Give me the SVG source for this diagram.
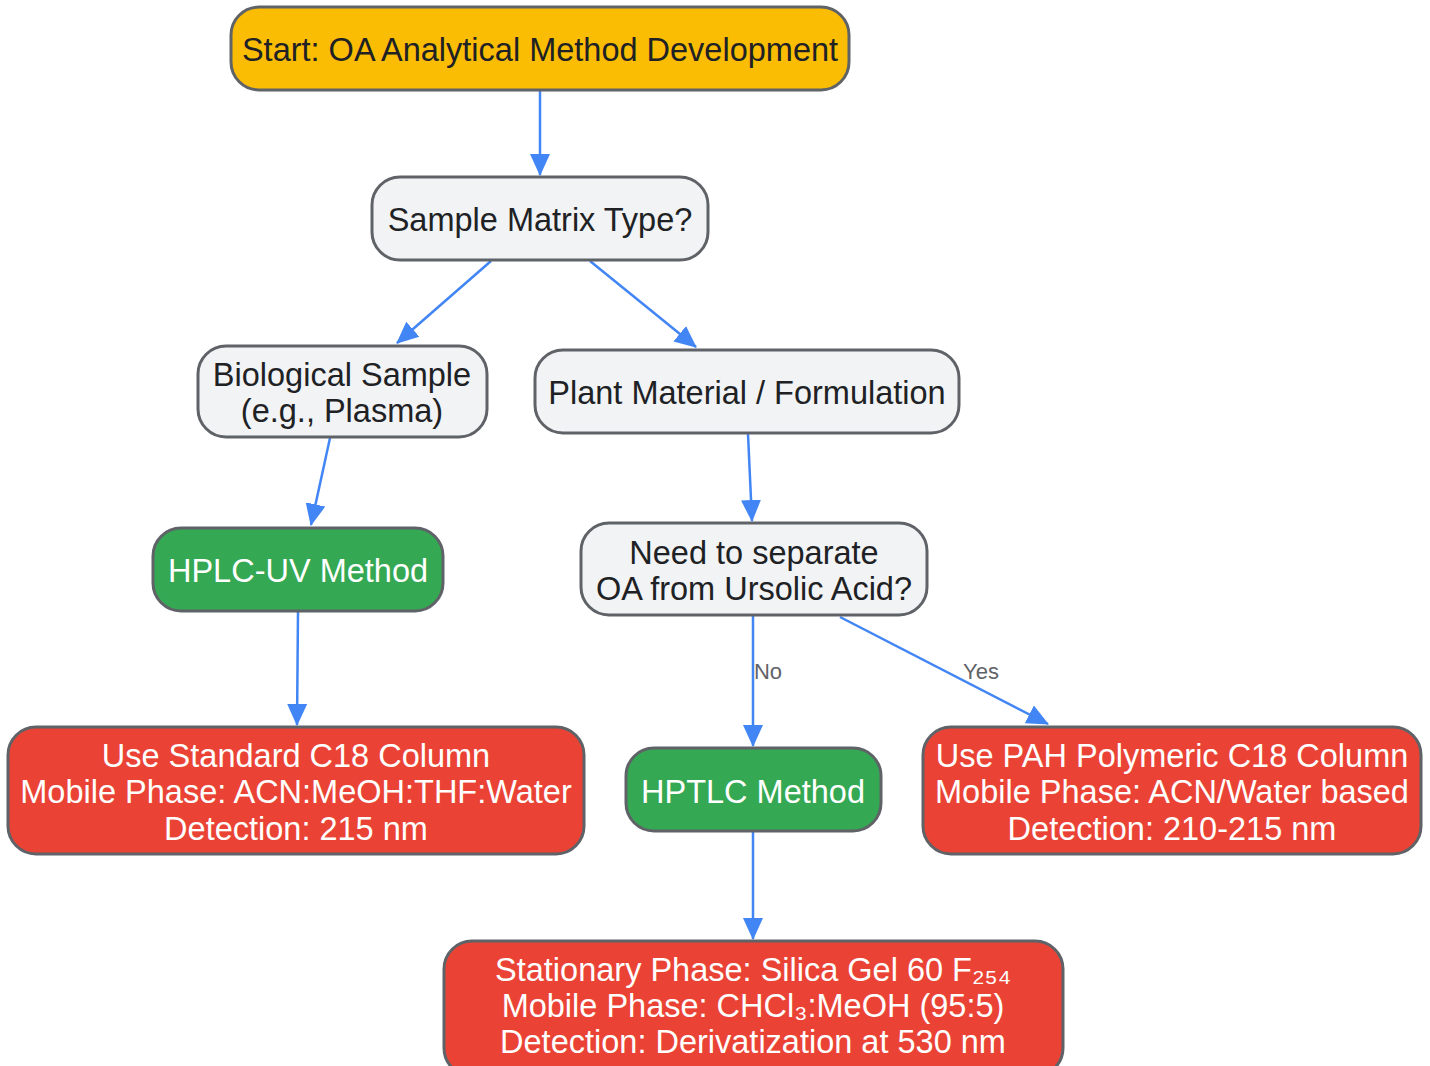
<svg xmlns="http://www.w3.org/2000/svg" width="1430" height="1066" viewBox="0 0 1430 1066">
<defs>
<marker id="arr" markerUnits="userSpaceOnUse" markerWidth="22" markerHeight="22" viewBox="0 0 22 22" refX="21" refY="11" orient="auto">
<path d="M0,1 L22,11 L0,21 Z" fill="#4285F4"/>
</marker>
<style>
.n rect{stroke:#5f6368;stroke-width:3}
.grey rect{fill:#F1F3F4}
.start rect{fill:#FBBC04}
.green rect{fill:#34A853}
.red rect{fill:#EA4335}
text{font-family:"Liberation Sans",Arial,sans-serif;font-size:32.5px;text-anchor:middle;fill:#202124}
.green text,.red text{fill:#ffffff}
.e{stroke:#4285F4;stroke-width:2.5;fill:none;marker-end:url(#arr)}
.lbl{font-size:22px;fill:#5f6368}
</style>
</defs>
<g id="connectors">
<line class="e" x1="540" y1="91" x2="540" y2="175"/>
<line class="e" x1="491" y1="261" x2="397" y2="343"/>
<line class="e" x1="590" y1="261" x2="696" y2="347"/>
<line class="e" x1="330" y1="438" x2="311" y2="525"/>
<line class="e" x1="748" y1="434" x2="752" y2="521"/>
<line class="e" x1="298" y1="612" x2="297" y2="725"/>
<line class="e" x1="753" y1="616" x2="753" y2="746"/>
<line class="e" x1="840" y1="617" x2="1048" y2="724"/>
<line class="e" x1="753" y1="832" x2="753" y2="939"/>
<text class="lbl" x="768" y="679">No</text>
<text class="lbl" x="981" y="679">Yes</text>
</g>
<g id="start" class="n start"><rect x="231" y="7" width="618" height="83" rx="28"/><text x="540" y="61">Start: OA Analytical Method Development</text></g>
<g id="matrix" class="n grey"><rect x="372" y="177" width="336" height="83" rx="28"/><text x="540" y="231">Sample Matrix Type?</text></g>
<g id="bio" class="n grey"><rect x="198" y="346" width="289" height="91" rx="28"/><text x="342" y="386">Biological Sample</text><text x="342" y="422">(e.g., Plasma)</text></g>
<g id="plant" class="n grey"><rect x="535" y="350" width="424" height="83" rx="28"/><text x="747" y="404">Plant Material / Formulation</text></g>
<g id="hplc" class="n green"><rect x="153" y="528" width="290" height="83" rx="28"/><text x="298" y="582">HPLC-UV Method</text></g>
<g id="need" class="n grey"><rect x="581" y="523" width="346" height="92" rx="28"/><text x="754" y="564">Need to separate</text><text x="754" y="600">OA from Ursolic Acid?</text></g>
<g id="c18" class="n red"><rect x="8" y="727" width="576" height="127" rx="28"/><text x="296" y="767">Use Standard C18 Column</text><text x="296" y="803">Mobile Phase: ACN:MeOH:THF:Water</text><text x="296" y="840">Detection: 215 nm</text></g>
<g id="hptlc" class="n green"><rect x="626" y="748" width="255" height="83" rx="28"/><text x="753" y="803">HPTLC Method</text></g>
<g id="pah" class="n red"><rect x="923" y="727" width="498" height="127" rx="28"/><text x="1172" y="767">Use PAH Polymeric C18 Column</text><text x="1172" y="803">Mobile Phase: ACN/Water based</text><text x="1172" y="840">Detection: 210-215 nm</text></g>
<g id="silica" class="n red"><rect x="444" y="941" width="619" height="135" rx="28"/><text x="753" y="981">Stationary Phase: Silica Gel 60 F₂₅₄</text><text x="753" y="1017">Mobile Phase: CHCl₃:MeOH (95:5)</text><text x="753" y="1053">Detection: Derivatization at 530 nm</text></g>
</svg>
